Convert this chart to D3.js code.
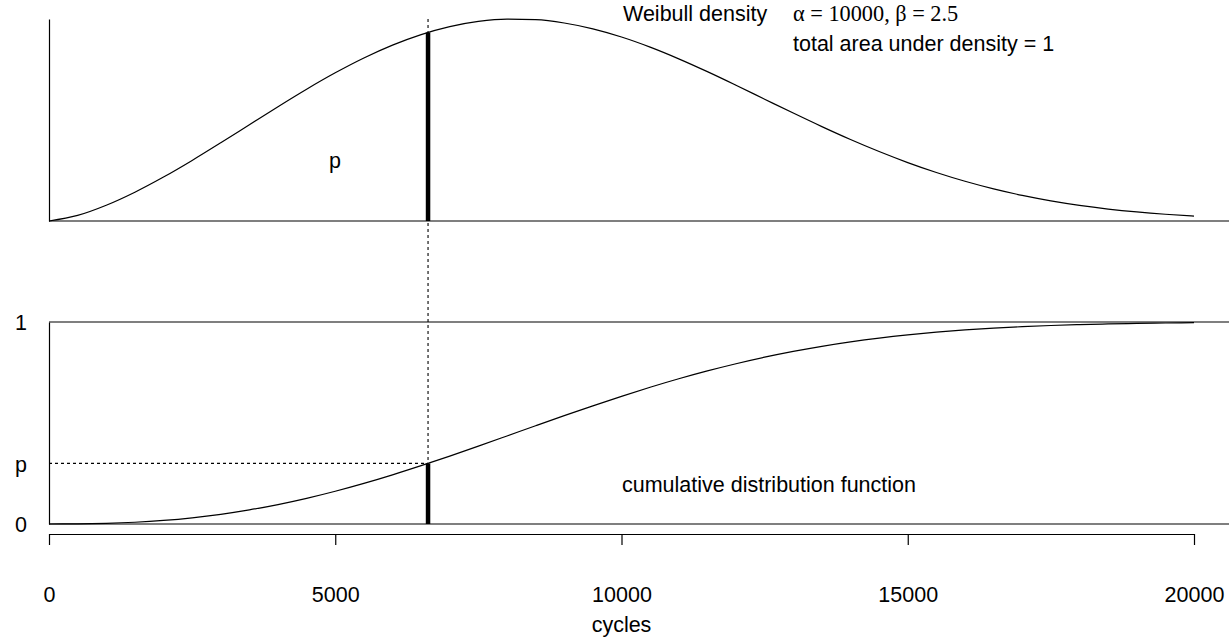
<!DOCTYPE html>
<html>
<head>
<meta charset="utf-8">
<script src="https://cdn.jsdelivr.net/npm/d3@7"></script>
<style>
  html, body { margin: 0; padding: 0; background: #fff; }
  svg { display: block; }
  text { font-family: "Liberation Sans", Arial, Helvetica, sans-serif; font-size: 21.5px; fill: #000; }
  .serif { font-family: "Liberation Serif", "Times New Roman", Times, serif; font-size: 22.3px; }
</style>
</head>
<body>
<svg id="chart" width="1229" height="642"></svg>
<script>
// Weibull parameters given in the annotation
const alpha = 10000;
const beta = 2.5;
// probability marked on both panels
const pLevel = 0.3;

// cycles at which the curves are evaluated
const cycleGrid = [0, 500, 1000, 1500, 2000, 2500, 3000, 3500, 4000, 4500,
  5000, 5500, 6000, 6500, 7000, 7500, 8000, 8500, 9000, 9500,
  10000, 10500, 11000, 11500, 12000, 12500, 13000, 13500, 14000, 14500,
  15000, 15500, 16000, 16500, 17000, 17500, 18000, 18500, 19000, 19500, 20000];

const xTicks = [0, 5000, 10000, 15000, 20000];
const cdfTickValues = [0, pLevel, 1];
const cdfTickLabels = ["0", "p", "1"];

const W = 1229, H = 642;
const left = 49, right = 1194;

const density = t => (beta / alpha) * Math.pow(t / alpha, beta - 1) * Math.exp(-Math.pow(t / alpha, beta));
const cdf = t => 1 - Math.exp(-Math.pow(t / alpha, beta));
const mode = alpha * Math.pow((beta - 1) / beta, 1 / beta);
const xp = alpha * Math.pow(-Math.log(1 - pLevel), 1 / beta);

const svg = d3.select("#chart");

const x = d3.scaleLinear().domain([0, 20000]).range([left, right]);
const yD = d3.scaleLinear().domain([0, density(mode)]).range([221, 19]);
const yC = d3.scaleLinear().domain([0, 1]).range([524, 322]);

const lineW = 1.2;

// ---------- upper panel: density ----------
const upperPanel = svg.append("g");
upperPanel.append("g")
  .attr("transform", `translate(${left},0)`)
  .call(d3.axisLeft(yD).tickValues([]).tickSizeOuter(0))
  .call(g => g.select(".domain").attr("stroke-width", lineW));
upperPanel.append("line")
  .attr("x1", left).attr("x2", W)
  .attr("y1", yD(0)).attr("y2", yD(0))
  .attr("stroke", "#000").attr("stroke-width", lineW);

const densityLine = d3.line().x(d => x(d)).y(d => yD(density(d))).curve(d3.curveMonotoneX);
upperPanel.append("path")
  .datum(cycleGrid)
  .attr("d", densityLine)
  .attr("fill", "none").attr("stroke", "#000").attr("stroke-width", lineW);

// ---------- lower panel: cumulative distribution ----------
const lowerPanel = svg.append("g");
lowerPanel.append("g")
  .attr("transform", `translate(${left},0)`)
  .call(d3.axisLeft(yC).tickValues(cdfTickValues)
    .tickFormat((d, i) => cdfTickLabels[i]).tickSize(0).tickPadding(22))
  .call(g => g.attr("font-size", null).attr("font-family", null))
  .call(g => g.select(".domain").attr("stroke-width", lineW))
  .call(g => g.selectAll("text").attr("dy", "0.36em"));
[0, 1].forEach(v => {
  lowerPanel.append("line")
    .attr("x1", left).attr("x2", W)
    .attr("y1", yC(v)).attr("y2", yC(v))
    .attr("stroke", "#000").attr("stroke-width", lineW);
});

const cdfLine = d3.line().x(d => x(d)).y(d => yC(cdf(d))).curve(d3.curveMonotoneX);
lowerPanel.append("path")
  .datum(cycleGrid)
  .attr("d", cdfLine)
  .attr("fill", "none").attr("stroke", "#000").attr("stroke-width", lineW);

// x axis below the lower panel
svg.append("g")
  .attr("transform", "translate(0,534)")
  .call(d3.axisBottom(x).tickValues(xTicks).tickFormat(d3.format("d"))
    .tickSize(11).tickSizeOuter(0).tickPadding(42))
  .call(g => g.attr("font-size", null).attr("font-family", null))
  .call(g => g.selectAll("path, line").attr("stroke-width", lineW));

svg.append("text")
  .attr("x", (left + right) / 2).attr("y", 632)
  .attr("text-anchor", "middle")
  .text("cycles");

// ---------- the marked quantile ----------
svg.append("line")
  .attr("x1", x(xp)).attr("x2", x(xp))
  .attr("y1", 19).attr("y2", yC(pLevel))
  .attr("stroke", "#000").attr("stroke-width", 1.1)
  .attr("stroke-dasharray", "3,3");
svg.append("line")
  .attr("x1", left).attr("x2", x(xp))
  .attr("y1", yC(pLevel)).attr("y2", yC(pLevel))
  .attr("stroke", "#000").attr("stroke-width", 1.1)
  .attr("stroke-dasharray", "3,3");
svg.append("line")
  .attr("x1", x(xp)).attr("x2", x(xp))
  .attr("y1", yD(0)).attr("y2", yD(density(xp)))
  .attr("stroke", "#000").attr("stroke-width", 4.5);
svg.append("line")
  .attr("x1", x(xp)).attr("x2", x(xp))
  .attr("y1", yC(0)).attr("y2", yC(pLevel))
  .attr("stroke", "#000").attr("stroke-width", 4.5);

// ---------- annotations ----------
svg.append("text").attr("x", 335).attr("y", 168).attr("text-anchor", "middle").text("p");
svg.append("text").attr("x", 623).attr("y", 21).text("Weibull density");
svg.append("text").attr("class", "serif").attr("x", 793).attr("y", 21)
  .text(`\u03B1 = ${alpha}, \u03B2 = ${beta}`);
svg.append("text").attr("x", 793).attr("y", 51).text("total area under density = 1");
svg.append("text").attr("x", 622).attr("y", 492).text("cumulative distribution function");
</script>
</body>
</html>
